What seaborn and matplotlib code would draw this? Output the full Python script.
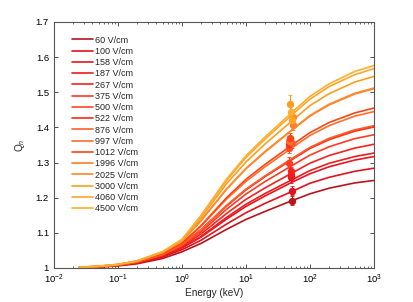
"""Q_n versus recoil energy for a set of drift fields (seaborn recreation)."""

import matplotlib

matplotlib.use("Agg")

import matplotlib.pyplot as plt
import numpy as np
import pandas as pd
import seaborn as sns

# drift fields shown in the legend, low -> high
fields = [60, 100, 158, 187, 267, 375, 500, 522, 876, 997, 1012, 1996, 2025, 3000, 4060, 4500]
field_labels = [f"{f} V/cm" for f in fields]

# line colours
colors = [
    "#b8141c", "#e0121c", "#e8141e", "#ee1a1c", "#f6201c", "#ff3a24", "#ff4824", "#ff2814",
    "#ff5e2c", "#ff6e30", "#ff4610", "#ff7e2a", "#ff8a2c", "#ff9e1e", "#ffa62a", "#ffae2e",
]

# energy grid (keV) at which the curves were read
energy = [0.025, 0.05, 0.1, 0.2, 0.5, 1, 2, 5, 10, 20, 50, 100, 200, 500, 1000]

# Q_n, one row per field (same order as `fields`)
q_curves = [
    [1.001, 1.003, 1.006, 1.012, 1.027, 1.046, 1.070, 1.110, 1.138, 1.161, 1.190, 1.211, 1.227, 1.242, 1.249],
    [1.001, 1.003, 1.007, 1.014, 1.031, 1.052, 1.079, 1.125, 1.157, 1.184, 1.216, 1.241, 1.258, 1.275, 1.284],
    [1.001, 1.004, 1.008, 1.015, 1.034, 1.057, 1.088, 1.139, 1.175, 1.205, 1.242, 1.268, 1.288, 1.307, 1.317],
    [1.001, 1.004, 1.008, 1.015, 1.034, 1.058, 1.090, 1.144, 1.181, 1.212, 1.249, 1.277, 1.298, 1.317, 1.327],
    [1.001, 1.004, 1.008, 1.016, 1.036, 1.061, 1.097, 1.155, 1.195, 1.228, 1.268, 1.298, 1.320, 1.341, 1.352],
    [1.001, 1.004, 1.008, 1.017, 1.038, 1.064, 1.103, 1.167, 1.210, 1.246, 1.289, 1.321, 1.345, 1.368, 1.379],
    [1.001, 1.004, 1.009, 1.018, 1.039, 1.067, 1.109, 1.176, 1.222, 1.260, 1.306, 1.340, 1.365, 1.389, 1.401],
    [1.001, 1.004, 1.009, 1.017, 1.039, 1.066, 1.109, 1.177, 1.223, 1.261, 1.307, 1.341, 1.367, 1.391, 1.403],
    [1.001, 1.004, 1.008, 1.017, 1.038, 1.065, 1.109, 1.178, 1.224, 1.262, 1.309, 1.343, 1.369, 1.393, 1.405],
    [1.002, 1.004, 1.009, 1.018, 1.041, 1.070, 1.119, 1.196, 1.246, 1.288, 1.339, 1.377, 1.405, 1.432, 1.445],
    [1.002, 1.004, 1.009, 1.018, 1.041, 1.070, 1.121, 1.200, 1.252, 1.295, 1.347, 1.385, 1.414, 1.441, 1.455],
    [1.002, 1.005, 1.010, 1.020, 1.045, 1.077, 1.135, 1.224, 1.282, 1.330, 1.389, 1.432, 1.464, 1.495, 1.510],
    [1.002, 1.005, 1.010, 1.019, 1.044, 1.076, 1.135, 1.225, 1.283, 1.332, 1.390, 1.434, 1.466, 1.497, 1.512],
    [1.002, 1.005, 1.010, 1.020, 1.046, 1.079, 1.143, 1.240, 1.301, 1.353, 1.415, 1.462, 1.496, 1.529, 1.545],
    [1.002, 1.005, 1.010, 1.020, 1.046, 1.081, 1.148, 1.249, 1.314, 1.367, 1.432, 1.480, 1.516, 1.550, 1.567],
    [1.002, 1.005, 1.010, 1.020, 1.046, 1.080, 1.150, 1.253, 1.319, 1.373, 1.439, 1.488, 1.524, 1.559, 1.576],
]

# measured points near 50 keV, one per field
point_energy = [53, 53, 50, 50, 50, 48, 47, 48, 52, 48, 49, 55, 54, 49, 53, 50]
point_q = [1.192, 1.220, 1.258, 1.265, 1.275, 1.300, 1.341, 1.352, 1.356, 1.362, 1.369, 1.407, 1.431, 1.466, 1.420, 1.445]
point_err = [0.012, 0.012, 0.015, 0.015, 0.012, 0.015, 0.015, 0.015, 0.015, 0.015, 0.015, 0.015, 0.015, 0.026, 0.015, 0.015]

sns.set_style("ticks")
plt.rcParams["font.family"] = ["Liberation Sans", "DejaVu Sans"]
plt.rcParams["mathtext.fontset"] = "custom"
plt.rcParams["mathtext.rm"] = "Liberation Sans"
plt.rcParams["mathtext.it"] = "Liberation Sans:italic"

rows = []
for label, qs in zip(field_labels, q_curves):
    for e, q in zip(energy, qs):
        rows.append({"field": label, "energy": e, "q": q})
df = pd.DataFrame(rows)

fig = plt.figure(figsize=(4.14, 3.02), dpi=100)
ax = fig.add_axes([0.130, 0.1126, 0.773, 0.8146])

sns.lineplot(
    data=df,
    x="energy",
    y="q",
    hue="field",
    hue_order=field_labels,
    palette=dict(zip(field_labels, colors)),
    linewidth=1.2,
    legend=False,
    ax=ax,
)
curve_lines = list(ax.lines[: len(field_labels)])

for e, q, err, c in zip(point_energy, point_q, point_err, colors):
    ax.errorbar(
        e, q, yerr=err, fmt="o", color=c, markersize=4.3,
        elinewidth=0.8, capsize=1.2, capthick=0.6,
    )

ax.set_xscale("log")
ax.set_xlim(1e-2, 1e3)
ax.set_ylim(1.0, 1.7)
ax.set_yticks(np.arange(1.0, 1.71, 0.1))
ax.set_yticklabels(["1", "1.1", "1.2", "1.3", "1.4", "1.5", "1.6", "1.7"])

ax.tick_params(which="both", direction="in", top=True, right=True,
               labelsize=6.8, colors="#333333", labelcolor="black")
ax.tick_params(which="major", length=3, width=0.6)
ax.tick_params(which="minor", length=1.6, width=0.5)
for sp in ax.spines.values():
    sp.set_color("#555555")
    sp.set_linewidth(0.8)

ax.set_xlabel("Energy (keV)", fontsize=7.2, labelpad=1)
ax.set_ylabel("Q$_n$", fontsize=7.2, labelpad=6)

ax.legend(
    curve_lines,
    field_labels,
    loc="upper left",
    bbox_to_anchor=(0.056, 0.945),
    frameon=False,
    fontsize=6.5,
    handlelength=2.3,
    handletextpad=0.3,
    labelspacing=0.25,
    borderpad=0,
    borderaxespad=0,
)

fig.savefig("out.png", dpi=100)
